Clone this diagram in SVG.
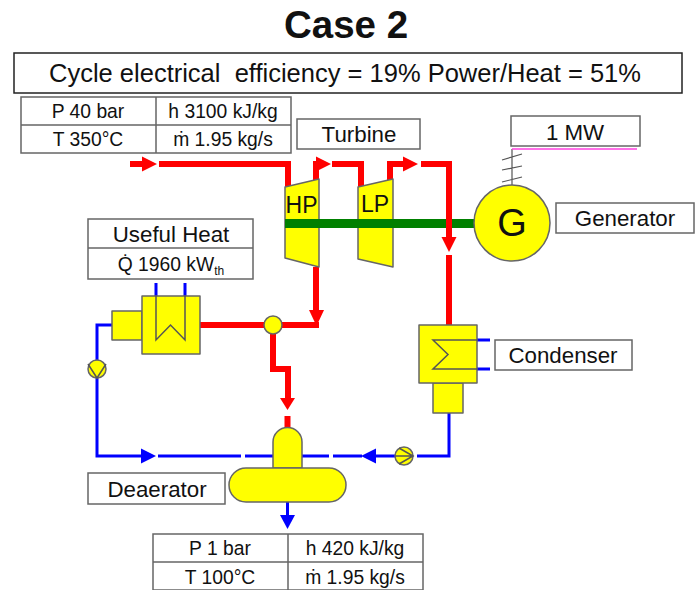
<svg xmlns="http://www.w3.org/2000/svg" width="700" height="590" viewBox="0 0 700 590">
<style>
text{font-family:"Liberation Sans",Arial,sans-serif;fill:#111;text-anchor:middle}
.box{fill:#fff;stroke:#666;stroke-width:1.5}
.eq{fill:#ffff00;stroke:#666;stroke-width:1.5;stroke-linejoin:round}
.lbl{font-size:22.3px}
.cell{font-size:19.3px}
.red{fill:none;stroke:#ff0000;stroke-width:6}
.blue{fill:none;stroke:#0000ff;stroke-width:3}
.coil{fill:none;stroke:#555;stroke-width:1.5}
</style>
<rect width="700" height="590" fill="#fff"/>
<g id="connectors">
<path class="red" d="M130 164H145M159 164H288V187M316 180V164H320M332 164H361V187M390 180V164H405M421 164H449V240M449 255V326"/>
<path class="red" d="M200 325H319M316 267V312"/>
<path class="red" d="M273 330V369H288V400M287.500 416V428"/>
<polygon fill="#ff0000" points="142,156.500 157,164 142,171.500"/>
<polygon fill="#ff0000" points="316,156.500 331,164 316,171.500"/>
<polygon fill="#ff0000" points="403,156.500 418,164 403,171.500"/>
<polygon fill="#ff0000" points="441.500,237 456.500,237 449,252"/>
<polygon fill="#ff0000" points="309,310 324,310 316.500,326"/>
<polygon fill="#ff0000" points="280,398 295,398 287.500,410"/>
<path class="blue" d="M156 283V296M185 283V296M112 325H97V456H142M158 456H241M245 456H273M302 456H329M333 456H362M375 456H395M417 456H449V413M477 340H490M477 369H490M287.500 502V516"/>
<polygon fill="#0000ff" points="141,448.500 156,456 141,463.500"/>
<polygon fill="#0000ff" points="376,448.500 361,456 376,463.500"/>
<polygon fill="#0000ff" points="280,515 295,515 287.500,529"/>
<path d="M512 149V185M502 160L522 154M502 170L522 166M502 182L522 177" fill="none" stroke="#555" stroke-width="1.200"/>
<path d="M512 149H637" stroke="#ff40e0" stroke-width="1.500" fill="none"/>
</g>
<g id="title"><text x="346" y="38" font-size="38.500" font-weight="bold">Case 2</text></g>
<g id="efficiency"><rect class="box" x="14" y="53" width="668" height="40" style="stroke:#222"/><text x="345" y="82" font-size="25.500" xml:space="preserve">Cycle electrical  efficiency = 19% Power/Heat = 51%</text></g>
<g id="state-1">
<rect class="box" x="21" y="97" width="270" height="56"/><path d="M21 125H291M156 97V153" stroke="#666" stroke-width="1.500"/>
<text class="cell" x="88" y="118">P 40 bar</text><text class="cell" x="223" y="118">h 3100 kJ/kg</text>
<text class="cell" x="88" y="146">T 350°C</text><text class="cell" x="223" y="146">ṁ 1.95 kg/s</text>
</g>
<g id="turbine-label"><rect class="box" x="297" y="119" width="123" height="30"/><text class="lbl" x="359" y="142">Turbine</text></g>
<g id="power-label"><rect class="box" x="511" y="116" width="129" height="30"/><text class="lbl" x="575" y="140">1 MW</text></g>
<g id="generator-label"><rect class="box" x="556" y="203" width="138" height="30"/><text class="lbl" x="625" y="226">Generator</text></g>
<g id="condenser-label"><rect class="box" x="495" y="340" width="137" height="30"/><text class="lbl" x="563" y="363">Condenser</text></g>
<g id="deaerator-label"><rect class="box" x="88" y="473" width="137" height="31"/><text class="lbl" x="157" y="497">Deaerator</text></g>
<g id="heat-label">
<rect class="box" x="88" y="219" width="165" height="60"/><path d="M88 248H253" stroke="#666" stroke-width="1.500"/>
<text class="lbl" x="171" y="242">Useful Heat</text>
<text class="cell" x="171" y="271">Q̇ 1960 kW<tspan font-size="12" dy="4">th</tspan></text>
</g>
<g id="hp-turbine"><polygon class="eq" points="285,187 319,179 319,267 285,258"/><text x="301.500" y="213" font-size="23">HP</text></g>
<g id="lp-turbine"><polygon class="eq" points="358,187 393,179 393,267 358,259"/><text x="375" y="212" font-size="23">LP</text></g>
<g id="shaft"><rect x="285" y="219" width="190" height="9" fill="#008000"/>
<path d="M449 219V228" stroke="#ff0000" stroke-width="6"/></g>
<g id="generator"><circle class="eq" cx="512" cy="223" r="38"/><text x="512" y="236" font-size="38">G</text></g>
<g id="heater">
<rect class="eq" x="112" y="311" width="30" height="29"/><rect class="eq" x="142" y="296" width="58" height="58"/>
<path class="coil" d="M156 296V340L170.500 325L185 340V296"/>
</g>
<g id="junction"><circle class="eq" cx="273" cy="325" r="9"/></g>
<g id="pump-1"><circle class="eq" cx="97" cy="369" r="9"/><path class="coil" d="M88 364L97 378L106 364"/></g>
<g id="condenser">
<rect class="eq" x="433" y="383" width="30" height="30"/><rect class="eq" x="419" y="325" width="58" height="58"/>
<path class="coil" d="M477 340H433L448 354.500L433 369H477"/>
</g>
<g id="pump-2"><circle class="eq" cx="404" cy="456" r="9"/><path class="coil" d="M395 456H413M399 448L413 456L399 464"/></g>
<g id="deaerator">
<path class="eq" d="M273 468V442A14.500 14.500 0 0 1 302 442V468Z"/><rect class="eq" x="229" y="468" width="117" height="34" rx="17"/>
</g>
<g id="state-2">
<rect class="box" x="153" y="534" width="270" height="56"/><path d="M153 562H423M288 534V590" stroke="#666" stroke-width="1.500"/>
<text class="cell" x="220" y="555">P 1 bar</text><text class="cell" x="355" y="555">h 420 kJ/kg</text>
<text class="cell" x="220" y="584">T 100°C</text><text class="cell" x="355" y="584">ṁ 1.95 kg/s</text>
</g>
</svg>
